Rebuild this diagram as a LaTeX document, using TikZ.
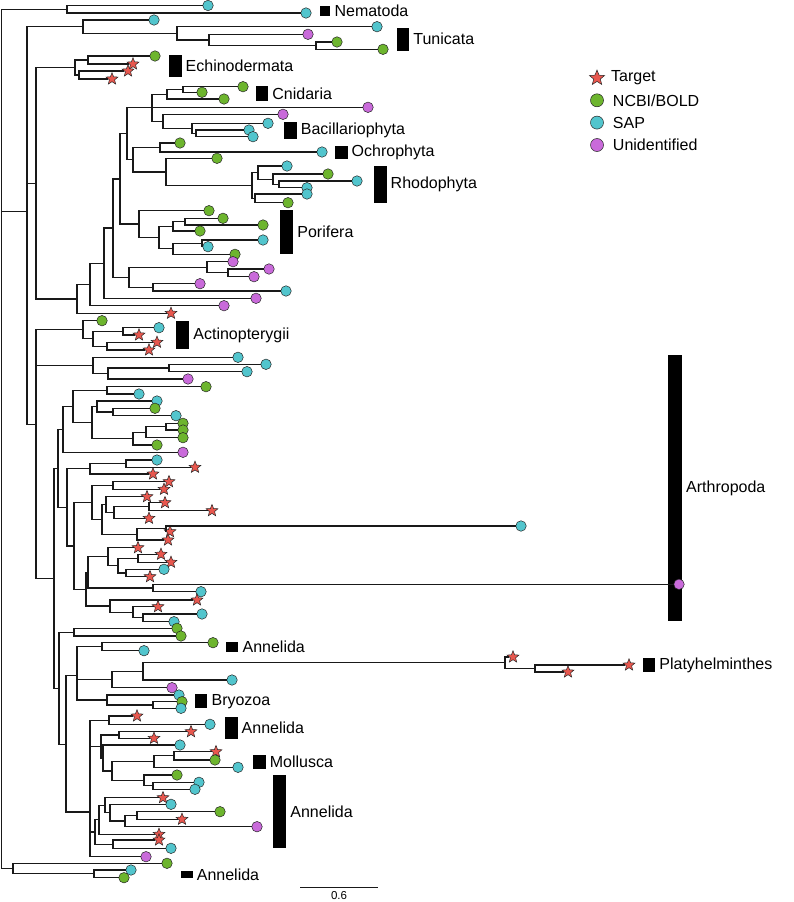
\documentclass[tikz,border=0pt]{standalone}
\usepackage{fontspec}
\setmainfont{Liberation Sans}
\usetikzlibrary{shapes.geometric,positioning}

\definecolor{ncbigreen}{HTML}{6DB52E}
\definecolor{sapcyan}{HTML}{52C5CD}
\definecolor{unidpurple}{HTML}{C96ADA}
\definecolor{tgtred}{HTML}{E8574E}

\newcommand{\taxfont}{\fontsize{16}{18}\selectfont}
\newcommand{\scalefont}{\fontsize{11.5}{13}\selectfont}

\tikzset{
  branch/.style={draw=black!90, line width=1.3pt},
  leaf/.style={circle, draw=black!85, line width=0.5pt, inner sep=0pt, minimum size=10.5pt},
  ncbi/.style={leaf, fill=ncbigreen},
  sap/.style={leaf, fill=sapcyan},
  unid/.style={leaf, fill=unidpurple},
  tgt/.style={star, star points=5, star point ratio=2.3, draw=black!85, line width=0.5pt,
    inner sep=0pt, minimum size=12.5pt, fill=tgtred},
  taxbar/.style={fill=black, inner sep=0pt},
  taxon/.style={inner sep=0pt, font=\taxfont, right=3.8pt of #1},
  legtext/.style={inner sep=0pt, font=\taxfont, right=9pt of #1},
}

\begin{document}
\begin{tikzpicture}[x=1pt, y=-1pt]
  \useasboundingbox (0,0) rectangle (793,902);

  % Clade bars and names
  \foreach \n/\x/\y/\w/\h/\t in {
    nembar/325/11/10.7/10/Nematoda, tunbar/403/39/12.4/23/Tunicata,
    echbar/175/66/13/22/Echinodermata, cnibar/262/93.3/12.4/14.7/Cnidaria,
    bacbar/290.5/130.5/12.4/17.6/Bacillariophyta, ochbar/341.3/152.5/12.4/13.6/Ochrophyta,
    rhobar/380/184.3/13/36.7/Rhodophyta, porbar/286.7/232.2/13/44.3/Porifera,
    actbar/182.7/335/13/28.7/Actinopterygii, arbar/675/488/14/266/Arthropoda,
    annbar/232.2/646.7/12.4/10/Annelida, plabar/649/665/12.4/14/Platyhelminthes,
    brybar/201.2/701.3/12.4/14/Bryozoa, lowbar/231.3/727.8/12.4/22.3/Annelida,
    molbar/259.5/762.2/12.4/14.3/Mollusca, anlbar/279.7/811.7/13/73.3/Annelida,
    botbar/186.8/874.7/11.7/7.3/Annelida}
  {
    \node[taxbar, minimum width=\w pt, minimum height=\h pt] (\n) at (\x,\y) {};
    \node[taxon=\n] {\t};
  }

  % Tips: name / x / y / source
  \foreach \n/\x/\y/\s in {
    % Nematoda, Tunicata
    nem1/208/5.5/sap, nem2/306/13/sap,
    tun1/154/20/sap, tun2/377/26.7/sap, tun3/308/34.3/unid, tun4/337/42/ncbi, tun5/383/49.3/ncbi,
    % Echinodermata
    ech1/155/56/ncbi, ech2/133/64/tgt, ech3/128/71/tgt, ech4/112/79/tgt,
    % Cnidaria, Bacillariophyta, Ochrophyta
    cni1/243/86.7/ncbi, cni2/202/92.3/ncbi, cni3/224/99/ncbi, cni4/368/107.3/unid,
    bac1/283/114.3/unid, bac2/268/123.3/sap, bac3/249/130/sap, bac4/253/136.7/sap,
    och1/180/143/ncbi, och2/322/152/sap,
    % Rhodophyta
    rho1/217/158.3/ncbi, rho2/287/166/sap, rho3/328/174/ncbi, rho4/357/181/sap,
    rho5/307/187.7/sap, rho6/307/194/sap, rho7/288/202.7/ncbi,
    % Porifera
    por1/209/210.7/ncbi, por2/223/218.3/ncbi, por3/263/225/ncbi, por4/200/231/ncbi,
    por5/263/240/sap, por6/208/246.7/sap, por7/235/254.3/ncbi,
    unk1/233/261.7/unid, unk2/269/269/unid, unk3/254/276.7/unid, unk4/200/283.7/unid,
    unk5/286/291/sap, unk6/256/298.3/unid, unk7/224/305.7/unid, unk8/171/313.3/tgt,
    % Actinopterygii
    act1/102/320.7/ncbi, act2/159/327.7/sap, act3/139/335/tgt, act4/157/342.3/tgt, act5/149/350/tgt,
    % Arthropoda
    ar1/238/357.3/sap, ar2/266/364.3/sap, ar3/247/371.7/sap, ar4/188/379/unid,
    ar5/206/386.7/ncbi, ar6/139/394/sap, ar7/157/401/sap, ar8/155/408.3/ncbi, ar9/176/415.7/sap,
    ar10/183/423.3/ncbi, ar11/183/430/ncbi, ar12/183/437.7/ncbi, ar13/157/445/ncbi, ar14/183/452.3/unid,
    ar15/157/460/sap, ar16/195/467.3/tgt, ar17/153/474/tgt, ar18/169/481.7/tgt, ar19/164/489.3/tgt,
    ar20/147/496.7/tgt, ar21/165/502.7/tgt, ar22/212/510.7/tgt, ar23/149/518.3/tgt,
    ar24/521/526/sap, ar25/170/531.7/tgt, ar26/168/540/tgt,
    ar27/138/547.7/tgt, ar28/161/554.3/tgt, ar29/171/562.3/tgt, ar30/164/569.3/sap, ar31/150/576.7/tgt,
    ar32/679/584.3/unid, ar33/201/591.7/sap,
    ar34/197/600/tgt, ar35/158/606.7/tgt, ar36/202/614/sap, ar37/174/621.7/sap,
    % Annelida, Platyhelminthes, Bryozoa
    ann1/177/628.3/ncbi, ann2/181/636/ncbi, ann3/213/642.7/ncbi, ann4/144/650.7/sap,
    pla1/513/657/tgt, pla2/629/665/tgt, pla3/568/672/tgt, pla4/232/680/sap, pla5/172/687.7/unid,
    bry1/179/695/sap, bry2/182/701.7/ncbi, bry3/181/708.3/sap,
    % Annelida, Mollusca
    low1/137/716/tgt, low2/210/724.3/sap, low3/191/731.7/tgt, low4/154/738.3/tgt, low5/180/745/sap,
    mol1/216/751.7/tgt, mol2/215/760/ncbi, mol3/238/767.3/sap,
    low6/177/775/ncbi, low7/199/782.3/sap, low8/195/789.3/sap,
    low9/163/797.7/tgt, low10/171/804.3/sap, low11/220/811.7/ncbi, low12/182/819.3/tgt,
    low13/257/826.7/unid, low14/159/834.3/tgt, low15/159/840/tgt, low16/171/848.3/sap,
    low17/146/856.7/unid,
    bot1/167/863.3/ncbi, bot2/131/870/sap, bot3/124/877.7/ncbi}
    \node[\s] (\n) at (\x,\y) {};

  % Internal nodes
  \foreach \n/\x/\y in {
    root/1.5/363, nem/67/9.3, big/27/211.4,
    tun/83/26.7, tunb/177/33.3, tunc/209/40, tund/316/45.7,
    cla/36/183.2, ech/75/67.5, echb/88/60, echc/79/75,
    clc/77/298.9, cld/90/284.5, cle/104/263.2, clf/113/228.1, clg/120/178.9, cli/127/133.7,
    cni/152/107.6, cnib/167/94.2, cnic/183/89.5,
    bac/163/121.3, bacb/192/128.3, bacc/196/133.3,
    och/133/159.8, ochb/160/147.5,
    rho/166/172.1, rhob/252/185.4, rhoc/258/172.6, rhod/273/179.2, rhoe/279/184.3, rhof/255/198.3,
    por/139/224.1, porb/159/237.6, porc/173/226.3, pord/185/221.7, pore/173/248.8, porf/202/243.3,
    clh/129/277.3, clhb/207/267.3, clhc/228/272.8, clhd/153/287.3,
    clb/36/424.4, act/83/329.7, actb/93/338.8, actc/123/331.3, actd/107/346.2,
    arj/93/365.4, arjb/108/373.5, arjc/169/368,
    clk/54/578.5, cll/58/468.4,
    arn/63/429.4, arp/73/406.4, arq/107/390.3, arr/92/422.5, ars/97/406.5, arsb/113/412,
    art/133/438.6, artb/146/432.2, artc/166/426.7,
    aro/67/507.4, aru/90/468.8, arub/126/463.7, arv/74/545.9,
    arw/92/502.5, arwb/113/485.5, arwc/102/519.5, arwd/106/504.6, arwe/114/512.5,
    arwf/149/506.7, arwg/137/534.4, arwh/166/528.8,
    arx/86/589.2, ary/88/572.3, aryb/108/556.7, aryc/118/565.7, aryd/138/558.3, arye/126/573,
    aryf/153/588, arz/110/606.1, arzb/133/612.3, arzc/143/617.8,
    clm/59/688.5, anna/74/632.2, clab/66/744.5, clac/77/675.5, annb/102/646.7,
    pla/112/679.7, plab/143/671.4, plac/505/662.8, plad/535/668.5,
    bry/107/700, bryb/153/705,
    low/90/812, lowa/109/720.2, lowb/101/746.5, lowc/119/735, lowd/103/758,
    mol/112/771, molb/154/761.6, molc/174/755.8, mold/144/780.4, mole/153/785.8,
    lowe/95/832, lowf/99/819.8, lowg/105/805.2, lowh/110/812.6, lowi/125/821,
    lowj/137/815.5, lowk/113/844.2,
    bot/13/868.6, botb/94/873.8}
    \coordinate (\n) at (\x,\y);

  % Branches: parent / child
  \foreach \p/\c in {
    root/nem, root/big, root/bot, nem/nem1, nem/nem2,
    big/tun, big/cla, big/clb,
    tun/tun1, tun/tunb, tunb/tun2, tunb/tunc, tunc/tun3, tunc/tund, tund/tun4, tund/tun5,
    cla/ech, cla/clc, ech/echb, ech/echc, echb/ech1, echb/ech2, echc/ech3, echc/ech4,
    clc/cld, clc/unk8, cld/cle, cld/unk7, cle/clf, cle/unk6, clf/clg, clf/clh,
    clg/cli, clg/por, cli/cni, cli/och,
    cni/cnib, cni/cni4, cni/bac, cnib/cnic, cnib/cni3, cnic/cni1, cnic/cni2,
    bac/bac1, bac/bacb, bacb/bac2, bacb/bacc, bacc/bac3, bacc/bac4,
    och/ochb, och/rho, ochb/och1, ochb/och2,
    rho/rho1, rho/rhob, rhob/rhoc, rhob/rhof, rhoc/rho2, rhoc/rhod, rhod/rho3, rhod/rhoe,
    rhoe/rho4, rhoe/rho5, rhof/rho6, rhof/rho7,
    por/por1, por/porb, porb/porc, porb/pore, porc/pord, porc/por4, pord/por2, pord/por3,
    pore/porf, pore/por7, porf/por5, porf/por6,
    clh/clhb, clh/clhd, clhb/unk1, clhb/clhc, clhc/unk2, clhc/unk3, clhd/unk4, clhd/unk5,
    clb/act, clb/arj, clb/clk,
    act/act1, act/actb, actb/actc, actb/actd, actc/act2, actc/act3, actd/act4, actd/act5,
    arj/ar1, arj/arjb, arjb/arjc, arjb/ar4, arjc/ar2, arjc/ar3,
    clk/cll, clk/clm, cll/arn, cll/aro, arn/arp, arn/ar14,
    arp/arq, arp/arr, arq/ar5, arq/ar6, arr/ars, arr/art, ars/ar7, ars/arsb, arsb/ar8, arsb/ar9,
    art/artb, art/ar13, artb/artc, artb/ar12, artc/ar10, artc/ar11,
    aro/aru, aro/arv, aru/arub, aru/ar17, arub/ar15, arub/ar16,
    arv/arw, arv/arx, arw/arwb, arw/arwc, arwb/ar18, arwb/ar19,
    arwc/arwd, arwc/arwg, arwd/ar20, arwd/arwe, arwe/arwf, arwe/ar23, arwf/ar21, arwf/ar22,
    arwg/arwh, arwg/ar26, arwh/ar24, arwh/ar25,
    arx/ary, arx/arz, ary/aryb, ary/aryf, aryb/ar27, aryb/aryc, aryc/aryd, aryc/arye,
    aryd/ar28, aryd/ar29, arye/ar30, arye/ar31, aryf/ar32, aryf/ar33,
    arz/ar34, arz/arzb, arzb/ar35, arzb/arzc, arzc/ar36, arzc/ar37,
    clm/anna, clm/clab, anna/ann1, anna/ann2, clab/clac, clab/low,
    clac/annb, clac/pla, clac/bry, annb/ann3, annb/ann4,
    pla/plab, pla/pla5, plab/plac, plab/pla4, plac/pla1, plac/plad, plad/pla2, plad/pla3,
    bry/bry1, bry/bryb, bryb/bry2, bryb/bry3,
    low/lowa, low/lowb, low/lowe, low/low17, lowa/low1, lowa/low2,
    lowb/lowc, lowb/lowd, lowc/low3, lowc/low4, lowd/low5, lowd/mol,
    mol/molb, mol/mold, molb/molc, molb/mol3, molc/mol1, molc/mol2,
    mold/low6, mold/mole, mole/low7, mole/low8,
    lowe/lowf, lowe/lowk, lowf/lowg, lowf/low14, lowg/low9, lowg/lowh,
    lowh/low10, lowh/lowi, lowi/lowj, lowi/low13, lowj/low11, lowj/low12,
    lowk/low15, lowk/low16,
    bot/bot1, bot/botb, botb/bot2, botb/bot3}
    \draw[branch] (\p) |- (\c);

  % Legend
  \node[tgt, minimum size=16pt] (legtgt) at (597,78) {};
  \node[legtext=legtgt] {Target};
  \node[ncbi, minimum size=13pt] (legncbi) at (597,100.3) {};
  \node[legtext=legncbi] {NCBI/BOLD};
  \node[sap, minimum size=13pt] (legsap) at (597,122.6) {};
  \node[legtext=legsap] {SAP};
  \node[unid, minimum size=13pt] (legunid) at (597,145) {};
  \node[legtext=legunid] {Unidentified};

  % Scale bar
  \coordinate (sbl) at (300,887.3);
  \coordinate (sbr) at (378,887.3);
  \draw[branch] (sbl) -- (sbr) node[midway, below=4pt, inner sep=0pt, font=\scalefont] {0.6};
\end{tikzpicture}
\end{document}
